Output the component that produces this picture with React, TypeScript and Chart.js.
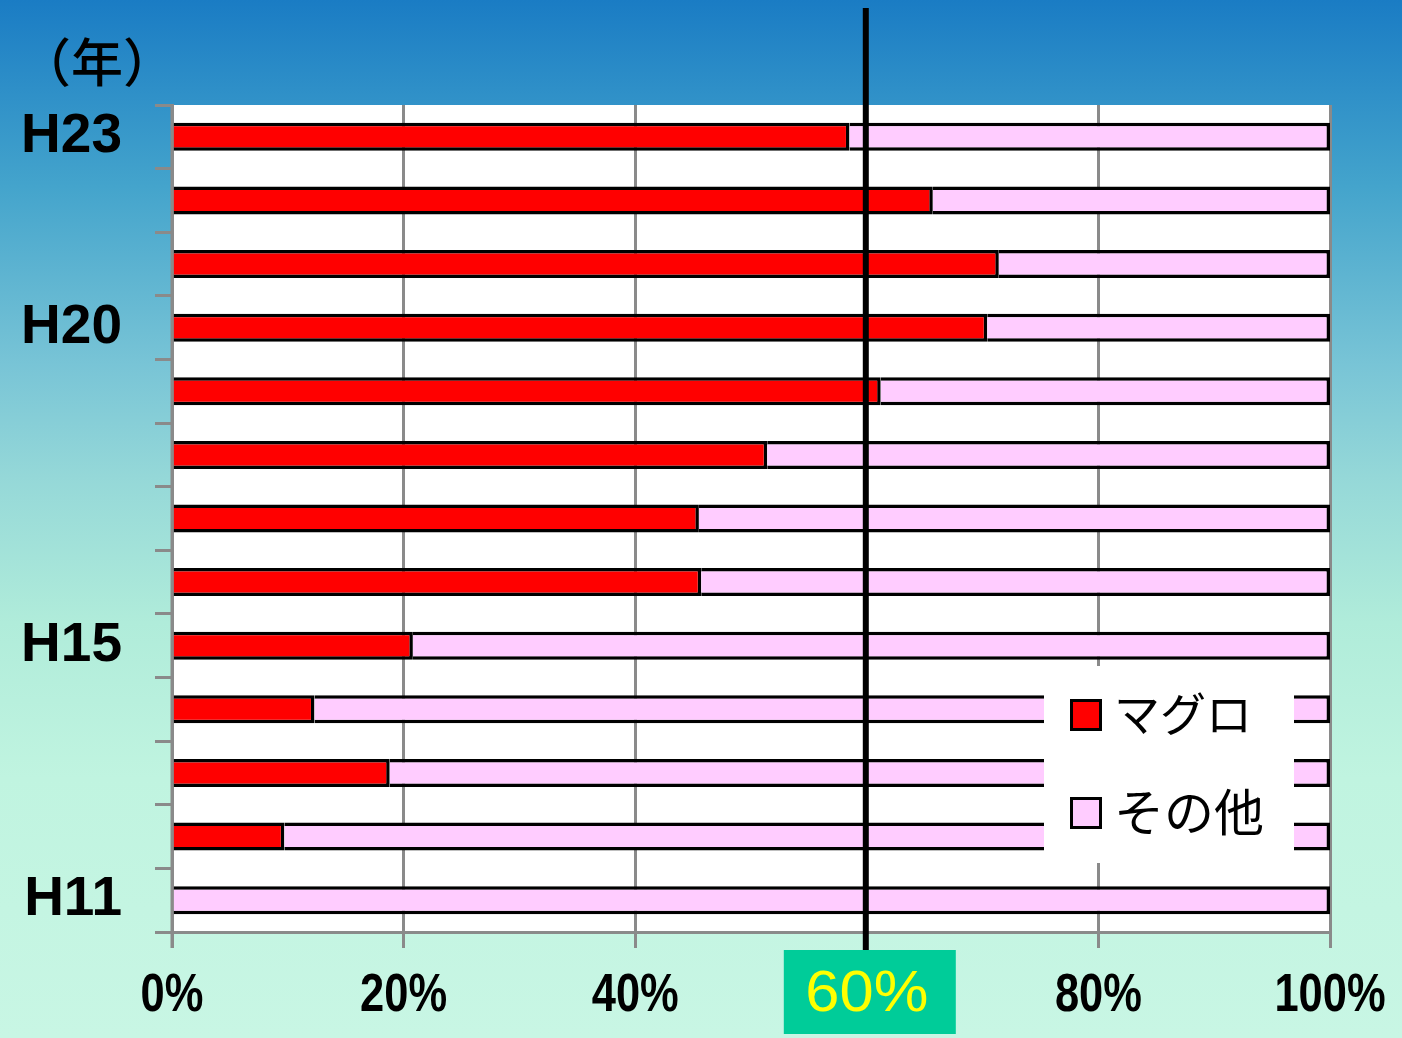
import React, { useEffect, useRef } from "react";
import { Chart, registerables } from "chart.js";

Chart.register(...registerables);

const categories = ["H23", "H22", "H21", "H20", "H19", "H18", "H17", "H16", "H15", "H14", "H13", "H12", "H11"];
const maguroValues = [58.5, 65.7, 71.4, 70.4, 61.2, 51.4, 45.5, 45.7, 20.8, 12.3, 18.8, 9.7, 0];
const otherValues = [41.5, 34.3, 28.6, 29.6, 38.8, 48.6, 54.5, 54.3, 79.2, 87.7, 81.2, 90.3, 100];
const seriesNames = ["マグロ", "その他"];
const shownYearLabels = ["H23", "H20", "H15", "H11"];
const xTickValues = [0, 20, 40, 60, 80, 100];
const thresholdValue = 60;
const thresholdLabel = "60%";
const yearUnitLabel = "（年）";

const RED = "#ff0000";
const PINK = "#ffccff";
const GRID = "#8a8a8a";

export default function App() {
  const canvasRef = useRef<HTMLCanvasElement | null>(null);

  useEffect(() => {
    document.body.style.margin = "0";
    const canvas = canvasRef.current!;
    const overlay = {
      id: "overlay",
      beforeDraw(chart: any) {
        const { ctx, chartArea } = chart;
        ctx.save();
        ctx.fillStyle = "#ffffff";
        ctx.fillRect(chartArea.left, chartArea.top, chartArea.right - chartArea.left, chartArea.bottom - chartArea.top);
        ctx.restore();
      },
      afterDatasetsDraw(chart: any) {
        const { ctx, chartArea } = chart;
        const x = chart.scales.x.getPixelForValue(thresholdValue);
        ctx.save();
        // left axis line drawn over bar starts
        ctx.strokeStyle = GRID;
        ctx.lineWidth = 3;
        ctx.beginPath();
        ctx.moveTo(chartArea.left, chartArea.top);
        ctx.lineTo(chartArea.left, chartArea.bottom + 16);
        ctx.stroke();
        // threshold line
        ctx.strokeStyle = "#000";
        ctx.lineWidth = 6;
        ctx.beginPath();
        ctx.moveTo(x - 1, 8);
        ctx.lineTo(x - 1, 950);
        ctx.stroke();
        ctx.restore();
      },
      afterDraw(chart: any) {
        const { ctx } = chart;
        const xs = chart.scales.x;
        const x = xs.getPixelForValue(thresholdValue);
        ctx.save();
        // x tick labels (condensed bold)
        ctx.fillStyle = "#000";
        ctx.font = "bold 53px 'Liberation Sans', Arial, sans-serif";
        ctx.textAlign = "center";
        ctx.textBaseline = "middle";
        xTickValues.forEach((v) => {
          if (v === thresholdValue) return;
          const px = xs.getPixelForValue(v);
          ctx.save();
          ctx.translate(px, 996);
          ctx.scale(0.82, 1);
          ctx.fillText(`${v}%`, 0, 0);
          ctx.restore();
        });
        // threshold label box
        ctx.fillStyle = "#00cc99";
        ctx.fillRect(x - 83, 950, 172, 84);
        ctx.fillStyle = "#ffff00";
        ctx.font = "58px 'Liberation Sans', Arial, sans-serif";
        ctx.save();
        ctx.translate(x, 995);
        ctx.scale(1.06, 1);
        ctx.fillText(thresholdLabel, 0, 0);
        ctx.restore();
        // year unit label
        ctx.fillStyle = "#000";
        ctx.font = "500 52px 'Noto Sans CJK JP', sans-serif";
        ctx.fillText(yearUnitLabel, 97, 62);
        // legend
        ctx.fillStyle = "#ffffff";
        ctx.fillRect(1044, 666, 250, 197);
        const items = [
          { color: RED, y: 699, size: 46, ty: 714 },
          { color: PINK, y: 797, size: 50, ty: 812 },
        ];
        items.forEach((it, i) => {
          ctx.fillStyle = it.color;
          ctx.fillRect(1070, it.y, 32, 32);
          ctx.strokeStyle = "#000";
          ctx.lineWidth = 3;
          ctx.strokeRect(1071.5, it.y + 1.5, 29, 29);
          ctx.fillStyle = "#000";
          ctx.font = `${it.size}px 'Noto Sans CJK JP', sans-serif`;
          ctx.textAlign = "left";
          ctx.textBaseline = "middle";
          ctx.fillText(seriesNames[i], 1114, it.ty);
        });
        ctx.restore();
      },
    };

    const barStyle = {
      borderColor: "#000",
      borderWidth: 3.5,
      borderSkipped: "start",
      barPercentage: 0.44,
      categoryPercentage: 1,
    };

    const chart = new Chart(canvas, {
      type: "bar",
      data: {
        labels: categories,
        datasets: [
          { label: seriesNames[0], data: maguroValues, backgroundColor: RED, ...barStyle },
          { label: seriesNames[1], data: otherValues, backgroundColor: PINK, ...barStyle },
        ],
      },
      options: {
        indexAxis: "y",
        animation: false,
        responsive: false,
        devicePixelRatio: 1,
        layout: { padding: { top: 105, right: 72, left: 0, bottom: 0 } },
        plugins: { legend: { display: false }, tooltip: { enabled: false } },
        scales: {
          x: {
            stacked: true,
            min: 0,
            max: 100,
            afterFit(scale: any) {
              scale.height = 106;
            },
            afterBuildTicks(scale: any) {
              scale.ticks = xTickValues.map((v) => ({ value: v }));
            },
            grid: { color: GRID, lineWidth: 3, tickLength: 16, drawOnChartArea: true },
            border: { color: GRID, width: 3 },
            ticks: { display: false },
          },
          y: {
            stacked: true,
            afterFit(scale: any) {
              scale.width = 172;
            },
            grid: { color: GRID, lineWidth: 3, tickLength: 17, drawOnChartArea: false, offset: true },
            border: { color: GRID, width: 3 },
            ticks: {
              padding: 33,
              autoSkip: false,
              color: "#000",
              font: { family: "'Liberation Sans', Arial, sans-serif", size: 55, weight: "bold" },
              callback: (_v: any, i: number) => (shownYearLabels.includes(categories[i]) ? categories[i] : ""),
            },
          },
        },
      },
      plugins: [overlay],
    } as any);
    return () => chart.destroy();
  }, []);

  return (
    <div
      style={{
        position: "relative",
        width: 1402,
        height: 1038,
        background:
          "linear-gradient(to bottom, #1a7cc4 0%, #44a4cc 18%, #78c4d6 35%, #95d8d8 46%, #b0ecda 60%, #c0f4e0 75%, #c8f6e4 100%)",
      }}
    >
      <canvas ref={canvasRef} width={1402} height={1038} style={{ width: 1402, height: 1038, display: "block" }} />
    </div>
  );
}
